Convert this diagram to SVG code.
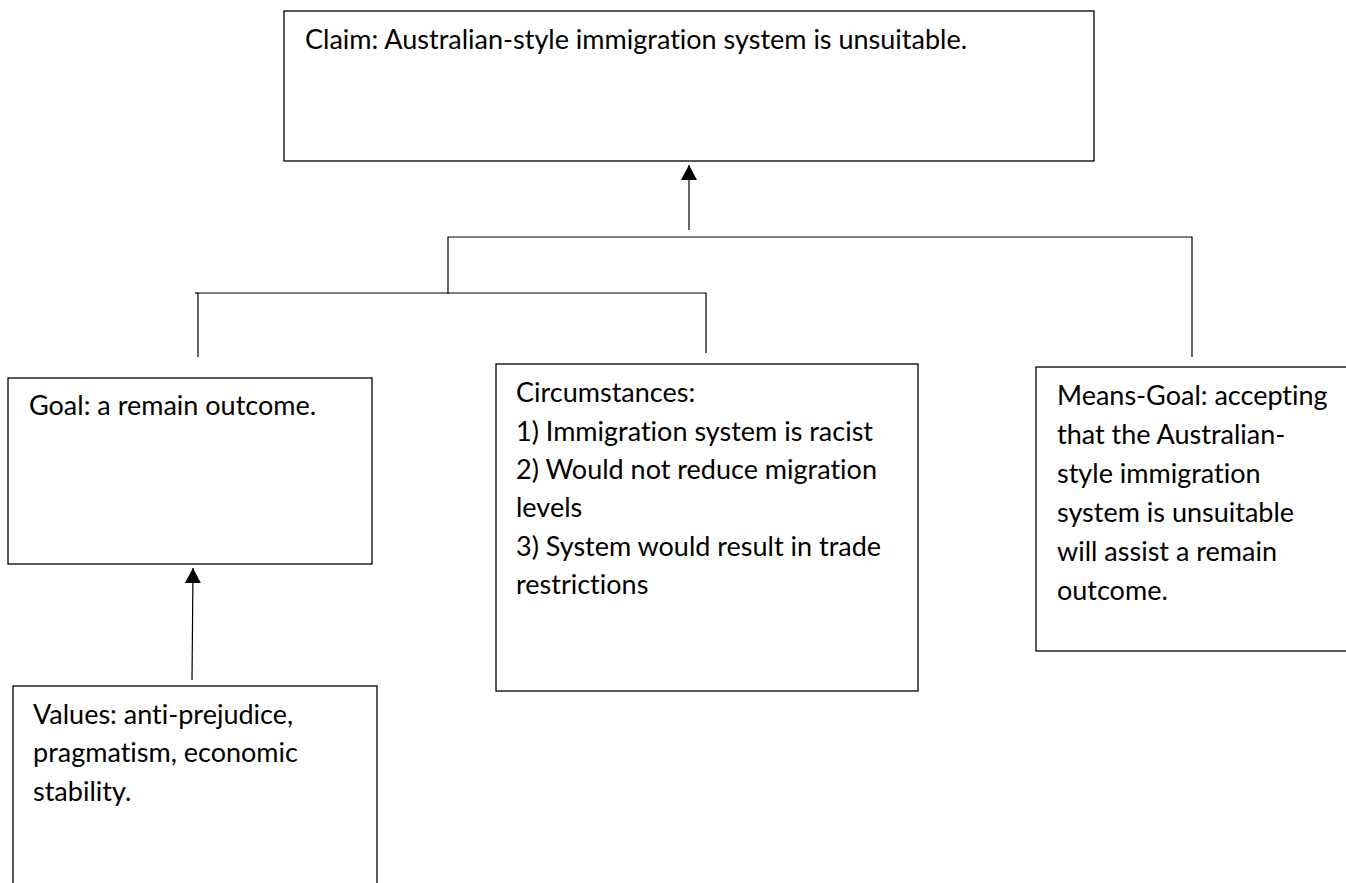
<svg xmlns="http://www.w3.org/2000/svg" width="1346" height="883" viewBox="0 0 1346 883">
<style>
.box{fill:#fff;stroke:#000;stroke-width:1.3}
.ln{fill:none;stroke:#000;stroke-width:1.2}
.t{font-family:Lato,"Open Sans",sans-serif;font-size:27px;fill:#000;font-variant-ligatures:none;font-feature-settings:"liga" 0,"clig" 0,"dlig" 0}
</style>
<defs>
<marker id="ah" markerUnits="userSpaceOnUse" markerWidth="16" markerHeight="16" refX="15" refY="8" orient="auto">
<path d="M0,0 L15,8 L0,16 z" fill="#000"/>
</marker>
</defs>
<rect width="1346" height="883" fill="#fff"/>
<g id="connectors">
<line class="ln" x1="689" y1="230" x2="689" y2="165" marker-end="url(#ah)"/>
<polyline class="ln" points="448,294 448,237 1192,237 1192,357"/>
<polyline class="ln" points="198,357 198,293 706,293 706,353"/>
<line class="ln" x1="195" y1="293" x2="198" y2="293"/>
<line class="ln" x1="192" y1="680" x2="193" y2="568" marker-end="url(#ah)"/>
</g>
<g id="claim">
<rect class="box" x="284" y="11" width="810" height="150"/>
<text class="t" x="305" y="49">Claim: Australian-style immigration system is unsuitable.</text>
</g>
<g id="goal">
<rect class="box" x="8" y="378" width="364" height="186"/>
<text class="t" x="29" y="415">Goal: a remain outcome.</text>
</g>
<g id="circumstances">
<rect class="box" x="496" y="364" width="422" height="327"/>
<text class="t" x="516" y="402">Circumstances:</text>
<text class="t" x="516" y="441">1) Immigration system is racist</text>
<text class="t" x="516" y="479">2) Would not reduce migration</text>
<text class="t" x="516" y="517">levels</text>
<text class="t" x="516" y="556">3) System would result in trade</text>
<text class="t" x="516" y="594">restrictions</text>
</g>
<g id="means-goal">
<rect class="box" x="1036" y="367" width="330" height="284"/>
<text class="t" x="1057" y="405">Means-Goal: accepting</text>
<text class="t" x="1057" y="444">that the Australian-</text>
<text class="t" x="1057" y="483">style immigration</text>
<text class="t" x="1057" y="522">system is unsuitable</text>
<text class="t" x="1057" y="561">will assist a remain</text>
<text class="t" x="1057" y="600">outcome.</text>
</g>
<g id="values">
<rect class="box" x="13" y="686" width="364" height="220"/>
<text class="t" x="33" y="724">Values: anti-prejudice,</text>
<text class="t" x="33" y="762">pragmatism, economic</text>
<text class="t" x="33" y="801">stability.</text>
</g>
</svg>
